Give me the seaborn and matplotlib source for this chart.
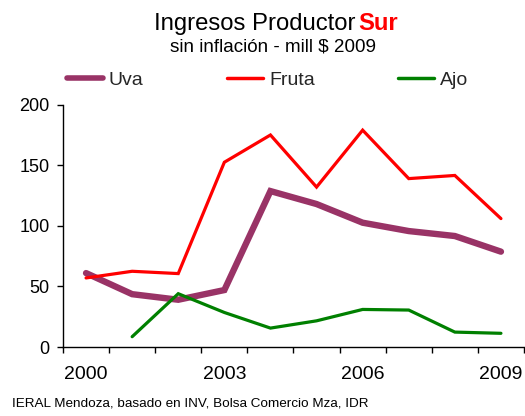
import numpy as np
import pandas as pd
import seaborn as sns
import matplotlib
matplotlib.use("Agg")
import matplotlib.pyplot as plt
from matplotlib.lines import Line2D
from matplotlib.ticker import FixedLocator

# Ingresos del productor, Zona Sur (millones de $ de 2009)
years = [2000, 2001, 2002, 2003, 2004, 2005, 2006, 2007, 2008, 2009]
uva = [61, 43.6, 39, 47, 128.7, 118, 102.6, 95.7, 91.6, 78.7]
fruta = [57, 62.5, 60.6, 152.5, 175, 132, 179, 139, 141.6, 106]
ajo = [np.nan, 8.5, 44, 28.5, 15.6, 21.6, 31, 30.5, 12.3, 11.3]
year_labels = ["2000", "2003", "2006", "2009"]
label_years = [2000, 2003, 2006, 2009]

series_names = ["Uva", "Fruta", "Ajo"]
colors = {"Uva": "#993366", "Fruta": "#FF0000", "Ajo": "#008000"}
widths = {"Uva": 4.6, "Fruta": 2.3, "Ajo": 2.3}

sns.set_theme(style="white")
plt.rcParams["font.family"] = ["Liberation Sans", "DejaVu Sans"]

fig = plt.figure(figsize=(5.25, 4.16), dpi=100)
ax = fig.add_axes([63 / 525, 1 - 347 / 416, (524 - 63) / 525, (347 - 104.7) / 416])

data = {"Uva": uva, "Fruta": fruta, "Ajo": ajo}
for name in series_names:
    df = pd.DataFrame({"year": years, "value": data[name]}).dropna()
    sns.lineplot(data=df, x="year", y="value", ax=ax, color=colors[name],
                 linewidth=widths[name], solid_joinstyle="miter", legend=False)

ax.set_xlim(1999.5, 2009.5)
ax.set_ylim(0, 200)
ax.set_yticks([0, 50, 100, 150, 200])
ax.set_xlabel("")
ax.set_ylabel("")

# tick marks between categories, labels centred on the categories
ax.xaxis.set_major_locator(FixedLocator(np.arange(1999.5, 2010.0, 1.0)))
ax.set_xticklabels([])
ax.set_xticks(label_years, minor=True)
ax.set_xticklabels(year_labels, minor=True)
ax.tick_params(axis="x", which="major", direction="out", length=4.5, width=1,
               color="black", bottom=True)
ax.tick_params(axis="x", which="minor", length=0, pad=14, labelsize=14,
               labelcolor="black", bottom=True)
ax.tick_params(axis="y", direction="out", length=4.5, width=1, color="black",
               left=True, labelsize=13, labelcolor="black", pad=5)

for side in ["top", "right"]:
    ax.spines[side].set_visible(False)
for side in ["left", "bottom"]:
    ax.spines[side].set_color("black")
    ax.spines[side].set_linewidth(1)

# legend row above the plot
handles = [Line2D([], [], color=colors[n], linewidth=(4 if n == "Uva" else 2.5))
           for n in series_names]
fig.legend(handles, series_names, loc="center left",
           bbox_to_anchor=(67 / 525, 1 - 80 / 416), ncol=3, frameon=False,
           fontsize=14, handlelength=1.85, handletextpad=0.3,
           columnspacing=4.3, borderpad=0, borderaxespad=0)

# title
fig.text(355 / 525, 1 - 30 / 416, "Ingresos Productor", ha="right",
         va="baseline", fontsize=17.2, color="black")
fig.text(358 / 525, 1 - 30 / 416, "Sur", ha="left", va="baseline",
         fontsize=17.2, fontweight="bold", color="#FF0000")
fig.text(273 / 525, 1 - 51.5 / 416, "sin inflación - mill $ 2009", ha="center",
         va="baseline", fontsize=13.6, color="black")

# source note
fig.text(12 / 525, 1 - 406 / 416, "IERAL Mendoza, basado en INV, Bolsa Comercio Mza, IDR",
         ha="left", va="baseline", fontsize=9.7, color="black")

fig.savefig("out.png", dpi=100)
